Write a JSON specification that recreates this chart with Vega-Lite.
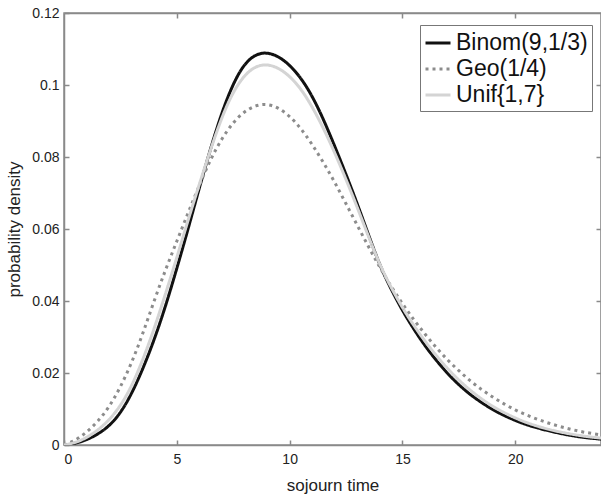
{
  "$schema": "https://vega.github.io/schema/vega-lite/v6.json",
  "autosize": "none",
  "width": 537,
  "height": 432,
  "padding": {"left": 64, "top": 13, "right": 0, "bottom": 53},
  "background": "white",
  "config": {
    "font": "Liberation Sans",
    "view": {"stroke": "#8a8a8a", "strokeWidth": 1.5},
    "axis": {
      "grid": false,
      "domainColor": "#8a8a8a",
      "domainWidth": 1.5,
      "tickColor": "#8a8a8a",
      "tickWidth": 1.5,
      "tickSize": -5,
      "labelFont": "Liberation Sans",
      "labelFontSize": 14,
      "labelColor": "#222",
      "titleFont": "Liberation Sans",
      "titleFontSize": 17,
      "titleFontWeight": "normal",
      "titleColor": "#222"
    },
    "legend": {
      "orient": "none",
      "legendX": 356,
      "legendY": 12,
      "title": null,
      "strokeColor": "#777",
      "fillColor": "white",
      "padding": 4,
      "labelFont": "Liberation Sans",
      "labelFontSize": 23,
      "labelColor": "#111",
      "labelLimit": 300,
      "labelOffset": 4,
      "symbolType": "stroke",
      "symbolSize": 625,
      "symbolStrokeWidth": 3,
      "rowPadding": 0
    }
  },
  "data": {"values": [
    {"x": 0, "p": 0, "dist": "Binom(9,1/3)"},
    {"x": 0.5, "p": 0.0004, "dist": "Binom(9,1/3)"},
    {"x": 1, "p": 0.0014, "dist": "Binom(9,1/3)"},
    {"x": 1.5, "p": 0.003, "dist": "Binom(9,1/3)"},
    {"x": 2, "p": 0.0052, "dist": "Binom(9,1/3)"},
    {"x": 2.5, "p": 0.0088, "dist": "Binom(9,1/3)"},
    {"x": 3, "p": 0.0142, "dist": "Binom(9,1/3)"},
    {"x": 3.5, "p": 0.0212, "dist": "Binom(9,1/3)"},
    {"x": 4, "p": 0.0292, "dist": "Binom(9,1/3)"},
    {"x": 4.5, "p": 0.0385, "dist": "Binom(9,1/3)"},
    {"x": 5, "p": 0.049, "dist": "Binom(9,1/3)"},
    {"x": 5.5, "p": 0.06, "dist": "Binom(9,1/3)"},
    {"x": 6, "p": 0.0715, "dist": "Binom(9,1/3)"},
    {"x": 6.5, "p": 0.0825, "dist": "Binom(9,1/3)"},
    {"x": 7, "p": 0.0925, "dist": "Binom(9,1/3)"},
    {"x": 7.5, "p": 0.1005, "dist": "Binom(9,1/3)"},
    {"x": 8, "p": 0.106, "dist": "Binom(9,1/3)"},
    {"x": 8.5, "p": 0.1086, "dist": "Binom(9,1/3)"},
    {"x": 9, "p": 0.1091, "dist": "Binom(9,1/3)"},
    {"x": 9.5, "p": 0.108, "dist": "Binom(9,1/3)"},
    {"x": 10, "p": 0.1056, "dist": "Binom(9,1/3)"},
    {"x": 10.5, "p": 0.102, "dist": "Binom(9,1/3)"},
    {"x": 11, "p": 0.097, "dist": "Binom(9,1/3)"},
    {"x": 11.5, "p": 0.0905, "dist": "Binom(9,1/3)"},
    {"x": 12, "p": 0.083, "dist": "Binom(9,1/3)"},
    {"x": 12.5, "p": 0.0752, "dist": "Binom(9,1/3)"},
    {"x": 13, "p": 0.067, "dist": "Binom(9,1/3)"},
    {"x": 13.5, "p": 0.0583, "dist": "Binom(9,1/3)"},
    {"x": 14, "p": 0.0498, "dist": "Binom(9,1/3)"},
    {"x": 14.5, "p": 0.0432, "dist": "Binom(9,1/3)"},
    {"x": 15, "p": 0.0373, "dist": "Binom(9,1/3)"},
    {"x": 15.5, "p": 0.0322, "dist": "Binom(9,1/3)"},
    {"x": 16, "p": 0.0275, "dist": "Binom(9,1/3)"},
    {"x": 16.5, "p": 0.0235, "dist": "Binom(9,1/3)"},
    {"x": 17, "p": 0.0198, "dist": "Binom(9,1/3)"},
    {"x": 17.5, "p": 0.0167, "dist": "Binom(9,1/3)"},
    {"x": 18, "p": 0.014, "dist": "Binom(9,1/3)"},
    {"x": 18.5, "p": 0.0118, "dist": "Binom(9,1/3)"},
    {"x": 19, "p": 0.0098, "dist": "Binom(9,1/3)"},
    {"x": 19.5, "p": 0.0082, "dist": "Binom(9,1/3)"},
    {"x": 20, "p": 0.0068, "dist": "Binom(9,1/3)"},
    {"x": 20.5, "p": 0.0056, "dist": "Binom(9,1/3)"},
    {"x": 21, "p": 0.0047, "dist": "Binom(9,1/3)"},
    {"x": 21.5, "p": 0.0039, "dist": "Binom(9,1/3)"},
    {"x": 22, "p": 0.0032, "dist": "Binom(9,1/3)"},
    {"x": 22.5, "p": 0.0026, "dist": "Binom(9,1/3)"},
    {"x": 23, "p": 0.0021, "dist": "Binom(9,1/3)"},
    {"x": 23.5, "p": 0.0018, "dist": "Binom(9,1/3)"},
    {"x": 24, "p": 0.0015, "dist": "Binom(9,1/3)"},
    {"x": 0, "p": 0, "dist": "Geo(1/4)"},
    {"x": 0.5, "p": 0.0012, "dist": "Geo(1/4)"},
    {"x": 1, "p": 0.0035, "dist": "Geo(1/4)"},
    {"x": 1.5, "p": 0.0065, "dist": "Geo(1/4)"},
    {"x": 2, "p": 0.0105, "dist": "Geo(1/4)"},
    {"x": 2.5, "p": 0.016, "dist": "Geo(1/4)"},
    {"x": 3, "p": 0.0228, "dist": "Geo(1/4)"},
    {"x": 3.5, "p": 0.031, "dist": "Geo(1/4)"},
    {"x": 4, "p": 0.0402, "dist": "Geo(1/4)"},
    {"x": 4.5, "p": 0.0487, "dist": "Geo(1/4)"},
    {"x": 5, "p": 0.0566, "dist": "Geo(1/4)"},
    {"x": 5.5, "p": 0.0645, "dist": "Geo(1/4)"},
    {"x": 6, "p": 0.0722, "dist": "Geo(1/4)"},
    {"x": 6.5, "p": 0.0795, "dist": "Geo(1/4)"},
    {"x": 7, "p": 0.0852, "dist": "Geo(1/4)"},
    {"x": 7.5, "p": 0.0897, "dist": "Geo(1/4)"},
    {"x": 8, "p": 0.0927, "dist": "Geo(1/4)"},
    {"x": 8.5, "p": 0.0944, "dist": "Geo(1/4)"},
    {"x": 9, "p": 0.0948, "dist": "Geo(1/4)"},
    {"x": 9.5, "p": 0.0937, "dist": "Geo(1/4)"},
    {"x": 10, "p": 0.0914, "dist": "Geo(1/4)"},
    {"x": 10.5, "p": 0.088, "dist": "Geo(1/4)"},
    {"x": 11, "p": 0.0835, "dist": "Geo(1/4)"},
    {"x": 11.5, "p": 0.0785, "dist": "Geo(1/4)"},
    {"x": 12, "p": 0.073, "dist": "Geo(1/4)"},
    {"x": 12.5, "p": 0.067, "dist": "Geo(1/4)"},
    {"x": 13, "p": 0.061, "dist": "Geo(1/4)"},
    {"x": 13.5, "p": 0.055, "dist": "Geo(1/4)"},
    {"x": 14, "p": 0.0493, "dist": "Geo(1/4)"},
    {"x": 14.5, "p": 0.044, "dist": "Geo(1/4)"},
    {"x": 15, "p": 0.0392, "dist": "Geo(1/4)"},
    {"x": 15.5, "p": 0.0348, "dist": "Geo(1/4)"},
    {"x": 16, "p": 0.0308, "dist": "Geo(1/4)"},
    {"x": 16.5, "p": 0.027, "dist": "Geo(1/4)"},
    {"x": 17, "p": 0.0236, "dist": "Geo(1/4)"},
    {"x": 17.5, "p": 0.0206, "dist": "Geo(1/4)"},
    {"x": 18, "p": 0.0178, "dist": "Geo(1/4)"},
    {"x": 18.5, "p": 0.0154, "dist": "Geo(1/4)"},
    {"x": 19, "p": 0.0133, "dist": "Geo(1/4)"},
    {"x": 19.5, "p": 0.0114, "dist": "Geo(1/4)"},
    {"x": 20, "p": 0.0097, "dist": "Geo(1/4)"},
    {"x": 20.5, "p": 0.0083, "dist": "Geo(1/4)"},
    {"x": 21, "p": 0.0071, "dist": "Geo(1/4)"},
    {"x": 21.5, "p": 0.006, "dist": "Geo(1/4)"},
    {"x": 22, "p": 0.0051, "dist": "Geo(1/4)"},
    {"x": 22.5, "p": 0.0043, "dist": "Geo(1/4)"},
    {"x": 23, "p": 0.0036, "dist": "Geo(1/4)"},
    {"x": 23.5, "p": 0.0031, "dist": "Geo(1/4)"},
    {"x": 24, "p": 0.0026, "dist": "Geo(1/4)"},
    {"x": 0, "p": 0, "dist": "Unif{1,7}"},
    {"x": 0.5, "p": 0.0006, "dist": "Unif{1,7}"},
    {"x": 1, "p": 0.002, "dist": "Unif{1,7}"},
    {"x": 1.5, "p": 0.0041, "dist": "Unif{1,7}"},
    {"x": 2, "p": 0.0069, "dist": "Unif{1,7}"},
    {"x": 2.5, "p": 0.0108, "dist": "Unif{1,7}"},
    {"x": 3, "p": 0.0163, "dist": "Unif{1,7}"},
    {"x": 3.5, "p": 0.0237, "dist": "Unif{1,7}"},
    {"x": 4, "p": 0.0323, "dist": "Unif{1,7}"},
    {"x": 4.5, "p": 0.042, "dist": "Unif{1,7}"},
    {"x": 5, "p": 0.052, "dist": "Unif{1,7}"},
    {"x": 5.5, "p": 0.0625, "dist": "Unif{1,7}"},
    {"x": 6, "p": 0.0725, "dist": "Unif{1,7}"},
    {"x": 6.5, "p": 0.0822, "dist": "Unif{1,7}"},
    {"x": 7, "p": 0.0912, "dist": "Unif{1,7}"},
    {"x": 7.5, "p": 0.0982, "dist": "Unif{1,7}"},
    {"x": 8, "p": 0.1028, "dist": "Unif{1,7}"},
    {"x": 8.5, "p": 0.1053, "dist": "Unif{1,7}"},
    {"x": 9, "p": 0.1058, "dist": "Unif{1,7}"},
    {"x": 9.5, "p": 0.1048, "dist": "Unif{1,7}"},
    {"x": 10, "p": 0.1025, "dist": "Unif{1,7}"},
    {"x": 10.5, "p": 0.099, "dist": "Unif{1,7}"},
    {"x": 11, "p": 0.094, "dist": "Unif{1,7}"},
    {"x": 11.5, "p": 0.088, "dist": "Unif{1,7}"},
    {"x": 12, "p": 0.0812, "dist": "Unif{1,7}"},
    {"x": 12.5, "p": 0.0738, "dist": "Unif{1,7}"},
    {"x": 13, "p": 0.066, "dist": "Unif{1,7}"},
    {"x": 13.5, "p": 0.0578, "dist": "Unif{1,7}"},
    {"x": 14, "p": 0.05, "dist": "Unif{1,7}"},
    {"x": 14.5, "p": 0.0437, "dist": "Unif{1,7}"},
    {"x": 15, "p": 0.0381, "dist": "Unif{1,7}"},
    {"x": 15.5, "p": 0.0332, "dist": "Unif{1,7}"},
    {"x": 16, "p": 0.0288, "dist": "Unif{1,7}"},
    {"x": 16.5, "p": 0.0248, "dist": "Unif{1,7}"},
    {"x": 17, "p": 0.0212, "dist": "Unif{1,7}"},
    {"x": 17.5, "p": 0.018, "dist": "Unif{1,7}"},
    {"x": 18, "p": 0.0152, "dist": "Unif{1,7}"},
    {"x": 18.5, "p": 0.0128, "dist": "Unif{1,7}"},
    {"x": 19, "p": 0.0107, "dist": "Unif{1,7}"},
    {"x": 19.5, "p": 0.009, "dist": "Unif{1,7}"},
    {"x": 20, "p": 0.0075, "dist": "Unif{1,7}"},
    {"x": 20.5, "p": 0.0062, "dist": "Unif{1,7}"},
    {"x": 21, "p": 0.0052, "dist": "Unif{1,7}"},
    {"x": 21.5, "p": 0.0043, "dist": "Unif{1,7}"},
    {"x": 22, "p": 0.0036, "dist": "Unif{1,7}"},
    {"x": 22.5, "p": 0.003, "dist": "Unif{1,7}"},
    {"x": 23, "p": 0.0025, "dist": "Unif{1,7}"},
    {"x": 23.5, "p": 0.0021, "dist": "Unif{1,7}"},
    {"x": 24, "p": 0.0018, "dist": "Unif{1,7}"}
  ]},
  "layer": [
    {
      "mark": {"type": "line", "clip": true, "interpolate": "basis", "strokeWidth": 3},
      "encoding": {
        "x": {"field": "x", "type": "quantitative",
              "scale": {"domain": [0, 23.8], "nice": false, "zero": false},
              "axis": {"values": [0, 5, 10, 15, 20], "title": "sojourn time", "labelPadding": 12, "titlePadding": 11}},
        "y": {"field": "p", "type": "quantitative",
              "scale": {"domain": [0, 0.12], "nice": false},
              "axis": {"values": [0, 0.02, 0.04, 0.06, 0.08, 0.1, 0.12], "format": ".2~f", "title": "probability density", "labelPadding": 10, "titlePadding": 8}},
        "color": {"field": "dist", "type": "nominal",
                  "scale": {"domain": ["Binom(9,1/3)", "Geo(1/4)", "Unif{1,7}"], "range": ["#111111", "#8c8c8c", "#d4d4d4"]},
                  "legend": {"title": null}},
        "strokeDash": {"field": "dist", "type": "nominal",
                  "scale": {"domain": ["Binom(9,1/3)", "Geo(1/4)", "Unif{1,7}"], "range": [[1, 0], [3, 4], [1, 0]]},
                  "legend": {"title": null}}
      }
    },
    {
      "mark": {"type": "line", "clip": true, "strokeOpacity": 0},
      "encoding": {
        "x": {"field": "x", "type": "quantitative",
              "axis": {"orient": "top", "values": [5, 10, 15, 20], "labels": false, "title": null}},
        "y": {"field": "p", "type": "quantitative",
              "axis": {"orient": "right", "values": [0.02, 0.04, 0.06, 0.08, 0.1], "labels": false, "title": null}}
      }
    }
  ],
  "resolve": {"axis": {"x": "independent", "y": "independent"}}
}
